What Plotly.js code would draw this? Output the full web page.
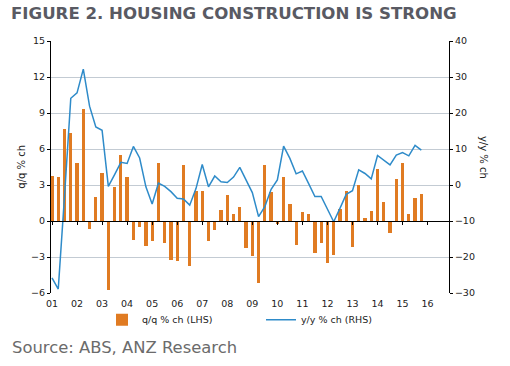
<!DOCTYPE html>
<html>
<head>
<meta charset="utf-8">
<script src="https://cdn.plot.ly/plotly-3.0.1.min.js"></script>
<style>html,body{margin:0;padding:0;background:#fff;}#chart{width:510px;height:366px;}</style>
</head>
<body>
<div id="chart"></div>
<script>
// Quarterly periods 2001Q1 .. 2015Q4
const quarters = [];
for (let y = 2001; y <= 2015; y++) { for (let q = 0; q < 4; q++) { quarters.push(y + q / 4); } }

const qqChange = [
  3.78, 3.69, 7.69, 7.36, 4.86, 9.36, -0.69, 2.03, 4.03, -5.78, 2.86, 5.53,
  3.69, -1.56, -0.50, -2.11, -1.69, 4.86, -1.86, -3.22, -3.36, 4.69, -3.78, 2.53,
  2.53, -1.69, -0.78, 0.94, 2.19, 0.61, 1.19, -2.28, -2.89, -5.19, 4.69, 2.44,
  -0.28, 3.69, 1.44, -1.97, 0.78, 0.61, -2.69, -1.86, -3.53, -2.86, 1.03, 2.53,
  -2.19, 2.97, 0.28, 0.86, 4.36, 1.61, -1.03, 3.53, 4.86, 0.61, 1.94, 2.28
];
const yyChange = [
  -25.8, -28.9, -3.1, 24.1, 25.6, 32.2, 21.9, 16.1, 15.2, -0.4, 2.9, 6.3,
  6.0, 10.7, 7.5, -0.5, -5.3, 0.5, -0.4, -1.85, -3.7, -3.9, -5.6, -1.0,
  5.7, -0.5, 2.5, 0.9, 0.7, 2.2, 4.9, 1.4, -2.1, -8.8, -6.0, -1.2,
  1.4, 10.8, 7.4, 3.1, 3.9, 0.4, -3.2, -3.2, -6.9, -10.2, -6.5, -2.6,
  -1.6, 4.2, 3.2, 1.7, 8.2, 6.8, 5.6, 8.3, 9.0, 8.1, 11.0, 9.7
];
const yearTicks = [2001,2002,2003,2004,2005,2006,2007,2008,2009,2010,2011,2012,2013,2014,2015,2016];
const yearLabels = ['01','02','03','04','05','06','07','08','09','10','11','12','13','14','15','16'];
const leftTicks = [-6, -3, 0, 3, 6, 9, 12, 15];
const rightTicks = [-30, -20, -10, 0, 10, 20, 30, 40];

const FONT = 'DejaVu Sans, Verdana, sans-serif';
const xRange = [2000.96, 2016.855];

const traces = [
  {
    type: 'bar', name: 'q/q % ch (LHS)', x: quarters, y: qqChange,
    width: 0.13, marker: {color: '#E07B22', line: {width: 0}},
    xaxis: 'x', yaxis: 'y', hoverinfo: 'skip'
  },
  {
    type: 'scatter', mode: 'lines', name: 'y/y % ch (RHS)', x: quarters, y: yyChange,
    line: {color: '#2E8BC9', width: 1.5}, xaxis: 'x', yaxis: 'y2', hoverinfo: 'skip'
  },
  {
    type: 'scatter', mode: 'markers', x: yearTicks, y: yearTicks.map(() => 0),
    marker: {opacity: 0, size: 1}, xaxis: 'x2', yaxis: 'y', showlegend: false, hoverinfo: 'skip'
  }
];

const layout = {
  width: 510, height: 366,
  margin: {l: 51, r: 61, t: 41, b: 73},
  paper_bgcolor: '#ffffff', plot_bgcolor: '#ffffff',
  font: {family: FONT, size: 9.5, color: '#222222'},
  bargap: 0,
  title: {
    text: '<b>FIGURE 2. HOUSING CONSTRUCTION IS STRONG</b>',
    font: {family: FONT, size: 16.6, color: '#595a63'},
    xref: 'container', yref: 'container', x: 11/510, xanchor: 'left', y: 1 - 13.5/366, yanchor: 'middle'
  },
  xaxis: {
    range: xRange, tickvals: yearTicks, ticktext: yearLabels, ticks: '', showline: false,
    showgrid: false, zeroline: false, ticklabelstandoff: 3,
    tickfont: {family: FONT, size: 9.5, color: '#222222'}
  },
  xaxis2: {
    overlaying: 'x', anchor: 'free', position: 72/252, range: xRange, tickvals: yearTicks,
    showticklabels: false, ticks: 'outside', ticklen: 3, tickcolor: '#000000', tickwidth: 1,
    showline: true, linecolor: '#000000', linewidth: 1.3, showgrid: false, zeroline: false
  },
  yaxis: {
    range: [-6, 15], tickvals: leftTicks, ticks: 'outside', ticklen: 3, tickcolor: '#000000',
    showline: true, linecolor: '#000000', linewidth: 1, showgrid: true, gridcolor: '#c3cbd3',
    gridwidth: 1, zeroline: false, tickfont: {family: FONT, size: 9.5, color: '#222222'}
  },
  yaxis2: {
    range: [-30, 40], tickvals: rightTicks, overlaying: 'y', side: 'right', anchor: 'x',
    ticks: 'outside', ticklen: 3, tickcolor: '#000000', showline: true, linecolor: '#000000',
    linewidth: 1, showgrid: false, zeroline: false, tickfont: {family: FONT, size: 9.5, color: '#222222'}
  },
  legend: {
    orientation: 'h', x: 51/398, xanchor: 'left', y: (293.3 - 320) / 252, yanchor: 'middle',
    font: {family: FONT, size: 9.5, color: '#222222'}, itemwidth: 30, entrywidth: 114,
    entrywidthmode: 'pixels', bgcolor: 'rgba(0,0,0,0)', traceorder: 'normal'
  },
  annotations: [
    {text: 'q/q % ch', xref: 'paper', yref: 'paper', x: (21.7 - 50.7) / 398, y: (293.3 - 167) / 252,
     xanchor: 'center', yanchor: 'middle', textangle: -90, showarrow: false,
     font: {family: FONT, size: 10, color: '#222222'}},
    {text: 'y/y % ch', xref: 'paper', yref: 'paper', x: (483 - 50.7) / 398, y: (293.3 - 157.5) / 252,
     xanchor: 'center', yanchor: 'middle', textangle: 90, showarrow: false,
     font: {family: FONT, size: 10, color: '#222222'}},
    {text: 'Source: ABS, ANZ Research', xref: 'paper', yref: 'paper', x: (10 - 50.7) / 398,
     y: (293.3 - 348) / 252, xanchor: 'left', yanchor: 'middle', showarrow: false,
     font: {family: FONT, size: 16.4, color: '#6b6b6b'}}
  ],
  showlegend: true
};

Plotly.newPlot('chart', traces, layout, {displayModeBar: false, staticPlot: true});
</script>
</body>
</html>
